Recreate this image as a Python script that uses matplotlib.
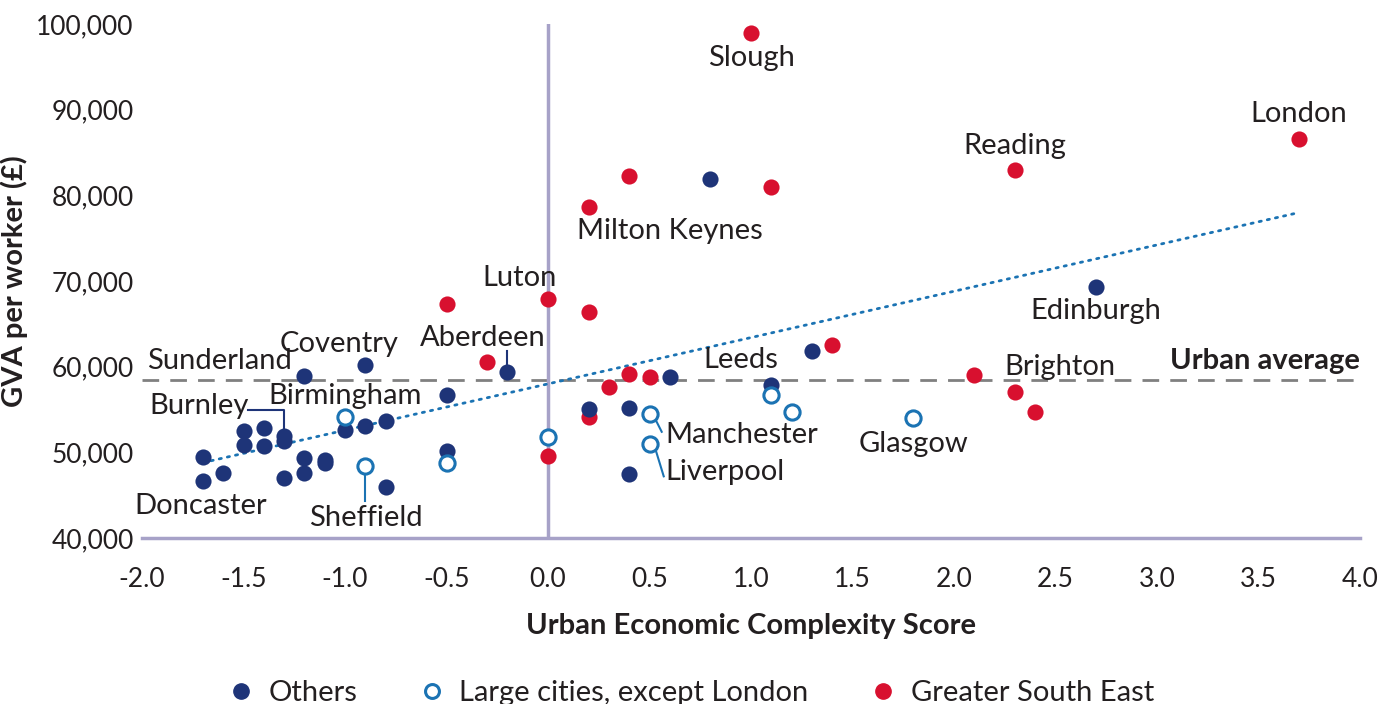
import matplotlib
matplotlib.use('Agg')
import matplotlib.pyplot as plt
from matplotlib.lines import Line2D
import numpy as np

plt.rcParams['font.family'] = ['Lato', 'DejaVu Sans']

NAVY = '#1e3478'
RED = '#d8102f'
OPEN_BLUE = '#1b73b3'
AXIS_COL = '#a7a2c8'
TEXT_COL = '#231f20'

# complexity score / GVA per worker, by group
others_x = [0.8, 2.7, 1.3, 1.1, 0.6, 0.4, 0.2, 0.4, -0.2, -0.5, -0.5, -0.9,
            -1.2, -0.8, -0.9, -1.0, -1.7, -1.7, -1.6, -1.5, -1.5, -1.4, -1.4,
            -1.3, -1.3, -1.3, -1.2, -1.2, -1.1, -1.1, -0.8]
others_y = [81900, 69300, 61800, 57900, 58850, 55200, 55050, 47500, 59400,
            56650, 50200, 60150, 58950, 53700, 53050, 52600, 49400, 46600,
            47600, 52550, 50800, 52800, 50700, 51900, 51300, 47050, 49300,
            47550, 49100, 48700, 46000]

large_x = [-1.0, -0.9, -0.5, 0.0, 0.5, 0.5, 1.1, 1.2, 1.8]
large_y = [54100, 48350, 48750, 51750, 54500, 51000, 56750, 54700, 54000]

gse_x = [1.0, 3.7, 2.3, 0.4, 1.1, 0.2, 0.0, -0.5, 0.2, -0.3, 1.4, 0.4, 0.5,
         0.3, 2.1, 2.3, 2.4, 0.2, 0.0]
gse_y = [99000, 86600, 83000, 82300, 81000, 78700, 67900, 67300, 66400,
         60500, 62500, 59200, 58750, 57650, 59000, 57000, 54700, 54150, 49600]

urban_avg = 58500

# trend line end points
trend_x = [-1.7, 3.7]
trend_y = [48800, 78000]

# city labels: name, x, y of text
labels = [('Slough', 1.0, 96000), ('London', 3.7, 89500), ('Reading', 2.3, 85800),
          ('Milton Keynes', 0.6, 75800), ('Luton', -0.14, 70400),
          ('Edinburgh', 2.7, 66500), ('Coventry', -1.03, 62700),
          ('Aberdeen', -0.32, 63400), ('Sunderland', -1.62, 60650),
          ('Leeds', 0.95, 60750), ('Brighton', 2.52, 59950),
          ('Birmingham', -1.0, 56550), ('Glasgow', 1.8, 51000),
          ('Doncaster', -1.71, 43700), ('Sheffield', -0.9, 42300)]

fig = plt.figure(figsize=(13.94, 7.04), dpi=100)
ax = fig.add_axes([0.1019, 0.2358, 0.8737, 0.730])

ax.set_xlim(-2.0, 4.0)
ax.set_ylim(40000, 100000)

ax.axhline(urban_avg, color='#808080', lw=2, ls=(0, (6, 4)), zorder=1)
ax.axvline(0, color=AXIS_COL, lw=2.5, zorder=1)

ax.plot(trend_x, trend_y, color=OPEN_BLUE, lw=2, ls=(0, (0.8, 2.2)),
        dash_capstyle='round', zorder=2)

ax.scatter(gse_x, gse_y, s=135, color=RED, lw=0, zorder=3)
ax.scatter(others_x, others_y, s=135, color=NAVY, lw=0, zorder=4)
ax.scatter(large_x, large_y, s=120, facecolor='white', edgecolor=OPEN_BLUE,
           lw=2.2, zorder=5)

FS = 21
for name, lx, ly in labels:
    ax.text(lx, ly, name, fontsize=FS, color=TEXT_COL, ha='center', va='center',
            zorder=6)

ax.text(0.58, 52000, 'Manchester', fontsize=FS, color=TEXT_COL, ha='left',
        va='center', zorder=6)
ax.text(0.58, 47700, 'Liverpool', fontsize=FS, color=TEXT_COL, ha='left',
        va='center', zorder=6)
ax.text(-1.72, 55400, 'Burnley', fontsize=FS, color=TEXT_COL, ha='center',
        va='center', zorder=6)
ax.text(4.0, 60700, 'Urban average', fontsize=FS, fontweight='bold',
        color=TEXT_COL, ha='right', va='center', zorder=6)

# callout lines
ax.plot([-1.48, -1.3, -1.3], [55000, 55000, 52700], color=NAVY, lw=1.5, zorder=2)
ax.plot([-0.2, -0.2], [61800, 60100], color=NAVY, lw=1.5, zorder=2)
ax.plot([-0.9, -0.9], [47600, 44300], color=OPEN_BLUE, lw=1.5, zorder=2)
ax.plot([0.53, 0.56], [53800, 52400], color=OPEN_BLUE, lw=1.5, zorder=2)
ax.plot([0.53, 0.57], [50300, 47200], color=OPEN_BLUE, lw=1.5, zorder=2)

ax.set_xticks(np.arange(-2.0, 4.01, 0.5))
ax.set_xticklabels([f'{v:.1f}' for v in np.arange(-2.0, 4.01, 0.5)])
ax.set_yticks(np.arange(40000, 100001, 10000))
ax.set_yticklabels([f'{v:,}' for v in range(40000, 100001, 10000)])
ax.tick_params(length=0, labelsize=19, colors=TEXT_COL)
ax.tick_params(axis='x', pad=21)
ax.tick_params(axis='y', pad=6)

for side in ['top', 'right', 'left']:
    ax.spines[side].set_visible(False)
ax.spines['bottom'].set_color(AXIS_COL)
ax.spines['bottom'].set_linewidth(2.5)

ax.set_xlabel('Urban Economic Complexity Score', fontsize=FS, fontweight='bold',
              color=TEXT_COL, labelpad=15)
ax.set_ylabel('GVA per worker (£)', fontsize=FS, fontweight='bold',
              color=TEXT_COL, labelpad=6)

handles = [Line2D([], [], ls='', marker='o', ms=11, color=NAVY, mec=NAVY),
           Line2D([], [], ls='', marker='o', ms=10, mfc='white', mec=OPEN_BLUE, mew=2.2),
           Line2D([], [], ls='', marker='o', ms=11, color=RED, mec=RED)]
fig.legend(handles, ['Others', 'Large cities, except London', 'Greater South East'],
           loc='lower center', bbox_to_anchor=(0.495, -0.04), ncol=3, frameon=False,
           fontsize=FS, handlelength=1.0, handletextpad=0.45, columnspacing=2.05,
           labelcolor=TEXT_COL)

fig.savefig('out.png', dpi=100)
